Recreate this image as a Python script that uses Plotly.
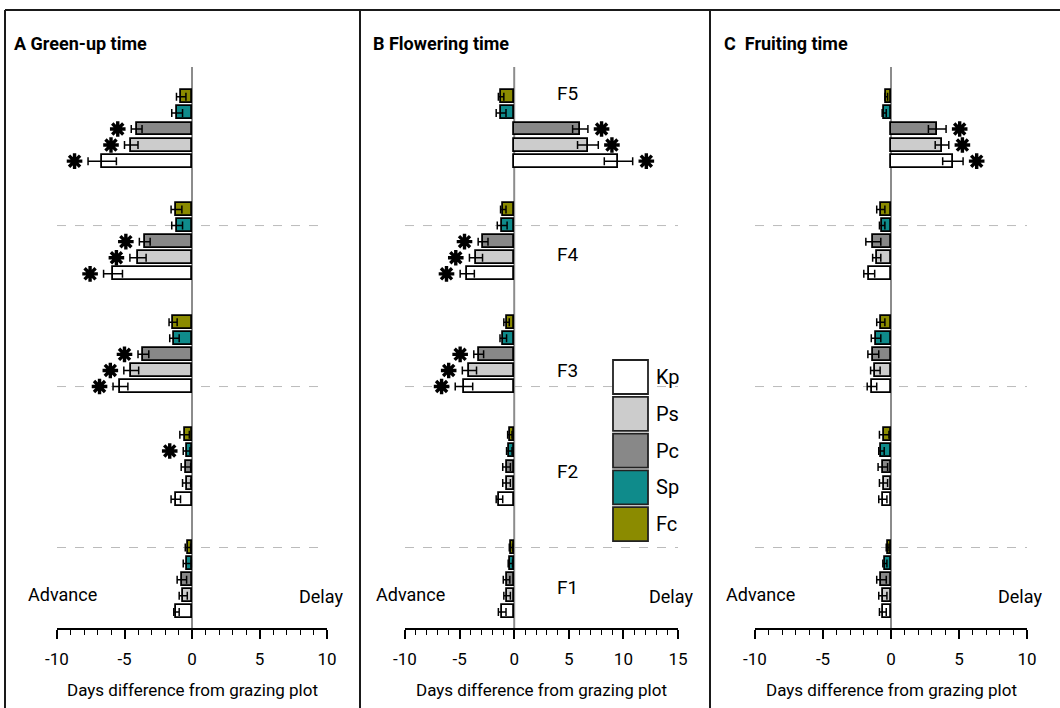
import plotly.graph_objects as go

W, H = 1060, 708

groups = ["F1", "F2", "F3", "F4", "F5"]
species = ["Kp", "Ps", "Pc", "Sp", "Fc"]
colors = {"Kp": "#ffffff", "Ps": "#cccccc", "Pc": "#888888", "Sp": "#0f8b8b", "Fc": "#8b8b00"}

# Panel A: Green-up time (values F1..F5)
a_val = {
    "Kp": [-1.15, -1.2, -5.3, -5.85, -6.65],
    "Ps": [-0.65, -0.4, -4.5, -4.0, -4.5],
    "Pc": [-0.75, -0.45, -3.6, -3.5, -4.1],
    "Sp": [-0.35, -0.4, -1.3, -1.1, -1.1],
    "Fc": [-0.3, -0.55, -1.4, -1.15, -0.8],
}
a_err = {
    "Kp": [0.2, 0.35, 0.55, 0.7, 1.05],
    "Ps": [0.3, 0.3, 0.55, 0.6, 0.5],
    "Pc": [0.35, 0.35, 0.4, 0.4, 0.4],
    "Sp": [0.3, 0.25, 0.35, 0.4, 0.4],
    "Fc": [0.2, 0.35, 0.3, 0.4, 0.35],
}
a_sig = {
    "Kp": [0, 0, 1, 1, 1],
    "Ps": [0, 0, 1, 1, 1],
    "Pc": [0, 0, 1, 1, 1],
    "Sp": [0, 1, 0, 0, 0],
    "Fc": [0, 0, 0, 0, 0],
}

# Panel B: Flowering time
b_val = {
    "Kp": [-1.1, -1.35, -4.6, -4.3, 9.55],
    "Ps": [-0.65, -0.7, -4.1, -3.5, 6.75],
    "Pc": [-0.7, -0.7, -3.25, -2.85, 6.05],
    "Sp": [-0.35, -0.45, -1.0, -1.1, -1.2],
    "Fc": [-0.3, -0.4, -0.7, -1.0, -1.2],
}
b_err = {
    "Kp": [0.35, 0.3, 0.8, 0.65, 1.3],
    "Ps": [0.3, 0.35, 0.65, 0.6, 0.95],
    "Pc": [0.3, 0.35, 0.45, 0.45, 0.7],
    "Sp": [0.2, 0.25, 0.3, 0.45, 0.45],
    "Fc": [0.15, 0.2, 0.25, 0.25, 0.25],
}
b_sig = {
    "Kp": [0, 0, 1, 1, 1],
    "Ps": [0, 0, 1, 1, 1],
    "Pc": [0, 0, 1, 1, 1],
    "Sp": [0, 0, 0, 0, 0],
    "Fc": [0, 0, 0, 0, 0],
}

# Panel C: Fruiting time
c_val = {
    "Kp": [-0.6, -0.6, -1.4, -1.6, 4.55],
    "Ps": [-0.6, -0.55, -1.15, -1.05, 3.75],
    "Pc": [-0.7, -0.6, -1.3, -1.3, 3.4],
    "Sp": [-0.45, -0.7, -1.1, -0.65, -0.5],
    "Fc": [-0.25, -0.5, -0.75, -0.75, -0.35],
}
c_err = {
    "Kp": [0.25, 0.3, 0.35, 0.4, 0.75],
    "Ps": [0.3, 0.3, 0.35, 0.3, 0.5],
    "Pc": [0.35, 0.35, 0.4, 0.55, 0.65],
    "Sp": [0.15, 0.2, 0.35, 0.2, 0.15],
    "Fc": [0.1, 0.35, 0.3, 0.3, 0.1],
}
c_sig = {
    "Kp": [0, 0, 0, 0, 1],
    "Ps": [0, 0, 0, 0, 1],
    "Pc": [0, 0, 0, 0, 1],
    "Sp": [0, 0, 0, 0, 0],
    "Fc": [0, 0, 0, 0, 0],
}

panel_titles = ["A Green-up time", "B Flowering time", "C  Fruiting time"]
x_ranges = [[-10, 10], [-10, 15], [-10, 10]]
tick_vals = [[-10, -5, 0, 5, 10], [-10, -5, 0, 5, 10, 15], [-10, -5, 0, 5, 10]]
tick_text = [["-10", "-5", "0", "5", "10"], ["-10", "-5", "0", "5", "10", "15"], ["-10", "-5", "0", "5", "10"]]
x_title = "Days difference from grazing plot"
group_label_pos = [1.5, 8.7, 15.0, 22.2, 32.2]

FONT = "Liberation Sans Narrow, Arial Narrow, Roboto, Liberation Sans, sans-serif"


def px(x):
    return x / W


def py(y):
    return 1 - y / H


x_domains_px = [(57, 327), (405, 678), (755, 1027)]
y_top_px, y_bot_px = 67, 628
star_off = [1.0, 1.25, 1.0]

fig = go.Figure()
panels = [(a_val, a_err, a_sig), (b_val, b_err, b_sig), (c_val, c_err, c_sig)]
for p, (vals, errs, sigs) in enumerate(panels):
    xa = "x" if p == 0 else f"x{p+1}"
    ya = "y" if p == 0 else f"y{p+1}"
    for i, sp in enumerate(species):
        pos = [g * 7 + i for g in range(len(groups))]
        fig.add_trace(go.Bar(
            x=vals[sp], y=pos, orientation="h", width=0.8,
            marker=dict(color=colors[sp], line=dict(color="black", width=1.8)),
            error_x=dict(type="data", array=errs[sp], color="black", thickness=1.5, width=4),
            xaxis=xa, yaxis=ya, showlegend=False, name=sp,
        ))
        sx, sy = [], []
        for g in range(len(groups)):
            if sigs[sp][g]:
                v = vals[sp][g]
                s = 1 if v > 0 else -1
                sx.append(v + s * (errs[sp][g] + star_off[p]))
                sy.append(g * 7 + i)
        if sx:
            fig.add_trace(go.Scatter(
                x=sx, y=sy, mode="markers",
                marker=dict(symbol="asterisk-open", size=13, color="black",
                            line=dict(color="black", width=3.4)),
                xaxis=xa, yaxis=ya, showlegend=False, hoverinfo="skip",
            ))

layout = dict(
    width=W, height=H, margin=dict(l=0, r=0, t=0, b=0, autoexpand=False),
    plot_bgcolor="white", paper_bgcolor="white",
    font=dict(family=FONT, color="black"),
    bargap=0, barmode="overlay", showlegend=False,
)
shapes = []
annotations = []
for p in range(3):
    suffix = "" if p == 0 else str(p + 1)
    x0p, x1p = x_domains_px[p]
    layout["xaxis" + suffix] = dict(
        domain=[px(x0p), px(x1p)], range=x_ranges[p], anchor="y" + suffix,
        showline=True, linecolor="black", linewidth=1.5,
        ticks="outside", ticklen=9, tickwidth=1.5, tickcolor="black",
        tickvals=tick_vals[p], ticktext=tick_text[p], tickfont=dict(size=17, family=FONT),
        ticklabelstandoff=6,
        minor=dict(dtick=1, ticks="outside", ticklen=5, tickwidth=1.3, tickcolor="black", showgrid=False),
        showgrid=False, zeroline=False, fixedrange=True,
    )
    layout["yaxis" + suffix] = dict(
        domain=[py(y_bot_px), py(y_top_px)], range=[-1, 33.85], anchor="x" + suffix,
        visible=False, fixedrange=True,
    )
    xr = "x" + suffix
    yr = "y" + suffix
    for yv in [4, 14, 24]:
        shapes.append(dict(type="line", xref=xr + " domain", yref=yr, x0=0, x1=1, y0=yv, y1=yv,
                           line=dict(color="#bbbbbb", width=1, dash="dash"), layer="below"))
    shapes.append(dict(type="line", xref=xr, yref=yr + " domain", x0=0, x1=0, y0=0, y1=1,
                       line=dict(color="#8c8c8c", width=2), layer="below"))
    left_px = [12, 371, 722][p]
    annotations.append(dict(text="<b>" + panel_titles[p] + "</b>", xref="paper", yref="paper",
                            x=px(left_px), y=py(44), xanchor="left", yanchor="middle",
                            showarrow=False, font=dict(size=18, family=FONT)))
    annotations.append(dict(text=x_title, xref="paper", yref="paper",
                            x=px((x0p + x1p) / 2), y=py(690), xanchor="center", yanchor="middle",
                            showarrow=False, font=dict(size=17, family=FONT)))
    adv_c = [62, 410, 760][p]
    del_c = [321, 671, 1020][p]
    annotations.append(dict(text="Advance", xref="paper", yref="paper", x=px(adv_c), y=py(594),
                            xanchor="center", yanchor="middle", showarrow=False,
                            font=dict(size=18, family=FONT)))
    annotations.append(dict(text="Delay", xref="paper", yref="paper", x=px(del_c), y=py(596),
                            xanchor="center", yanchor="middle", showarrow=False,
                            font=dict(size=18, family=FONT)))

for g, lab in enumerate(groups):
    annotations.append(dict(text=lab, xref="x2", yref="y2", x=4.9, y=group_label_pos[g],
                            xanchor="center", yanchor="middle", showarrow=False,
                            font=dict(size=19, family=FONT)))

for i, sp in enumerate(species):
    top = 360 + i * 36.8
    shapes.append(dict(type="rect", xref="paper", yref="paper",
                       x0=px(613), x1=px(648), y0=py(top + 34), y1=py(top),
                       fillcolor=colors[sp], line=dict(color="#222222", width=1.8)))
    annotations.append(dict(text=sp, xref="paper", yref="paper", x=px(654), y=py(top + 17),
                            xanchor="left", yanchor="middle", showarrow=False,
                            font=dict(size=20, family=FONT)))

frame = dict(color="#1a1a1a", width=2)
shapes.append(dict(type="line", xref="paper", yref="paper", x0=px(5), x1=1, y0=py(10), y1=py(10), line=frame))
shapes.append(dict(type="line", xref="paper", yref="paper", x0=px(5), x1=px(5), y0=0, y1=py(10), line=frame))
for xs in [360, 710]:
    shapes.append(dict(type="line", xref="paper", yref="paper", x0=px(xs), x1=px(xs), y0=0, y1=py(10), line=frame))

layout["shapes"] = shapes
layout["annotations"] = annotations
fig.update_layout(**layout)
fig.write_html("out.html")
